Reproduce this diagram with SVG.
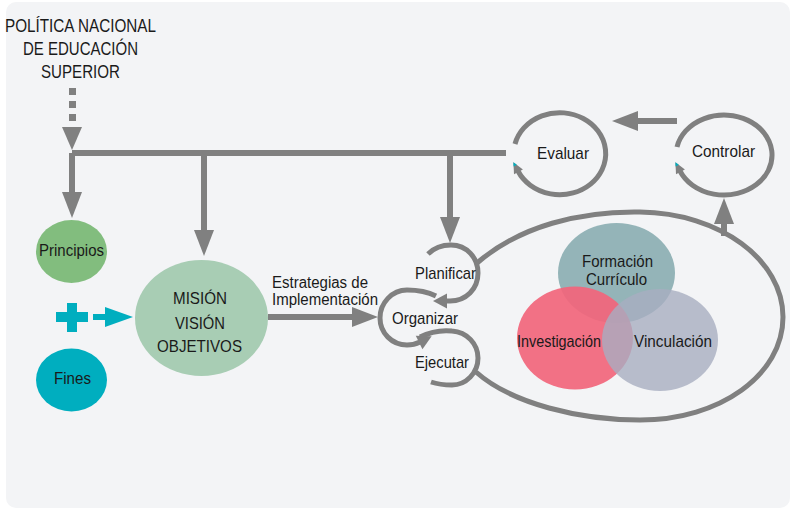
<svg xmlns="http://www.w3.org/2000/svg" width="790" height="509" viewBox="0 0 790 509">
<style>
.t{font-family:"Liberation Sans",Arial,sans-serif;fill:#1a1a1a;font-size:17px}
.ln{fill:none;stroke:#808080;stroke-width:6}
.lp{fill:none;stroke:#808080;stroke-width:5}
.ah{fill:#808080}
.tl{fill:#00aebf}
</style>
<defs>
<marker id="big" markerUnits="userSpaceOnUse" markerWidth="30" markerHeight="24" refX="1" refY="10" orient="auto" overflow="visible">
<path d="M0,0 L26,10 L0,20 z" fill="#808080"/>
</marker>
<marker id="loop" markerUnits="userSpaceOnUse" markerWidth="20" markerHeight="20" refX="1" refY="7.5" orient="auto" overflow="visible">
<path d="M0,0 L14,7.5 L0,15 z" fill="#808080"/>
</marker>
<marker id="sm" markerUnits="userSpaceOnUse" markerWidth="16" markerHeight="16" refX="1" refY="5" orient="auto" overflow="visible">
<path d="M0,0 L11,5 L0,10 z" fill="#808080"/>
<path d="M7,3.2 L11,5 L7,6.8 z" fill="#00aebf"/>
</marker>
</defs>
<rect x="6" y="2" width="784" height="506" rx="10" fill="#f3f4f6"/>

<g id="title">
<text class="t" style="font-size:18px" x="5" y="32" textLength="151" lengthAdjust="spacingAndGlyphs">POLÍTICA NACIONAL</text>
<text class="t" style="font-size:18px" x="23" y="55" textLength="115" lengthAdjust="spacingAndGlyphs">DE EDUCACIÓN</text>
<text class="t" style="font-size:18px" x="41" y="78" textLength="79" lengthAdjust="spacingAndGlyphs">SUPERIOR</text>
</g>

<g id="connectors">
<rect x="69" y="88" width="7" height="7" class="ah"/>
<rect x="69" y="101" width="7" height="7" class="ah"/>
<rect x="69" y="114" width="7" height="7" class="ah"/>
<polygon points="62,127 82,127 72,150" class="ah"/>
<path class="ln" d="M72,153 H506"/>
<path class="ln" d="M72,153 V193" marker-end="url(#big)"/>
<path class="ln" d="M204,153 V231" marker-end="url(#big)"/>
<path class="ln" d="M450,153 V218" marker-end="url(#big)"/>
<path class="ln" d="M268,317 H353" marker-end="url(#big)"/>
<path class="ln" d="M677,121 H637" marker-end="url(#big)"/>
<path class="ln" d="M724,236 V223" marker-end="url(#big)"/>
<rect x="56" y="312" width="32" height="10" class="tl"/>
<rect x="67" y="303" width="10" height="29" class="tl"/>
<rect x="93" y="314" width="12" height="6" class="tl"/>
<polygon points="105,307 133,317 105,327" class="tl"/>
<text class="t" style="font-size:16px" x="272" y="288" textLength="96" lengthAdjust="spacingAndGlyphs">Estrategias de</text>
<text class="t" style="font-size:16px" x="272" y="305" textLength="106" lengthAdjust="spacingAndGlyphs">Implementación</text>
<path class="lp" d="M477,263 C520,226 580,211 640,212 C720,213 783,260 783,317 C783,375 720,420 640,420 C580,420 512,404 476,372"/>
</g>

<g id="principios">
<ellipse cx="71.5" cy="251.5" rx="35.5" ry="31.5" fill="#82bd7e"/>
<text class="t" x="39" y="256" textLength="65" lengthAdjust="spacingAndGlyphs">Principios</text>
</g>
<g id="fines">
<ellipse cx="71.5" cy="380" rx="35.5" ry="31.5" fill="#00aebf"/>
<text class="t" x="54" y="384" textLength="37" lengthAdjust="spacingAndGlyphs">Fines</text>
</g>
<g id="mision">
<ellipse cx="201.5" cy="318" rx="66.5" ry="58" fill="#a8cdb4"/>
<text class="t" x="173" y="304" textLength="54" lengthAdjust="spacingAndGlyphs">MISIÓN</text>
<text class="t" x="175" y="329" textLength="50" lengthAdjust="spacingAndGlyphs">VISIÓN</text>
<text class="t" x="157" y="352" textLength="85" lengthAdjust="spacingAndGlyphs">OBJETIVOS</text>
</g>

<g id="planificar">
<path class="lp" d="M428,254 C434,248 442,245 451,245 C467,245 478,258 478,273 C478,289 466,301 450,301 L446,301" marker-end="url(#loop)"/>
<text class="t" x="415" y="279" textLength="61" lengthAdjust="spacingAndGlyphs">Planificar</text>
</g>
<g id="organizar">
<path class="lp" d="M436,296 C428,292 418,290 407,290 C392,290 380,303 380,318 C380,333 392,345 407,345 C412,345 416,344 420,342" marker-end="url(#loop)"/>
<text class="t" x="392" y="324" textLength="66" lengthAdjust="spacingAndGlyphs">Organizar</text>
</g>
<g id="ejecutar">
<path class="lp" d="M420,337 C432,331 442,330 452,331 C467,332 478,344 478,358 C478,373 466,385 452,385 C444,385 437,384 431,382"/>
<text class="t" x="415" y="368" textLength="54" lengthAdjust="spacingAndGlyphs">Ejecutar</text>
</g>

<g id="evaluar">
<path class="lp" d="M515,144 A46 41 0 1 1 518,171" marker-end="url(#sm)"/>
<text class="t" x="537" y="159" textLength="52" lengthAdjust="spacingAndGlyphs">Evaluar</text>
</g>
<g id="controlar">
<path class="lp" d="M677,147 A48 40 0 1 1 680,171" marker-end="url(#sm)"/>
<text class="t" x="692" y="157" textLength="63" lengthAdjust="spacingAndGlyphs">Controlar</text>
</g>

<g id="formacion">
<ellipse cx="616.5" cy="273" rx="58.5" ry="50" fill="#94b4b8"/>
</g>
<g id="investigacion">
<ellipse cx="575" cy="338" rx="58" ry="51.5" fill="#f2657b" fill-opacity="0.92"/>
</g>
<g id="vinculacion">
<ellipse cx="660" cy="340" rx="58" ry="51" fill="#a8aec0" fill-opacity="0.8"/>
</g>
<g id="venn-labels">
<text class="t" x="582" y="267" textLength="71" lengthAdjust="spacingAndGlyphs">Formación</text>
<text class="t" x="586" y="285" textLength="61" lengthAdjust="spacingAndGlyphs">Currículo</text>
<text class="t" x="517" y="347" textLength="84" lengthAdjust="spacingAndGlyphs">Investigación</text>
<text class="t" x="634" y="347" textLength="78" lengthAdjust="spacingAndGlyphs">Vinculación</text>
</g>
</svg>
